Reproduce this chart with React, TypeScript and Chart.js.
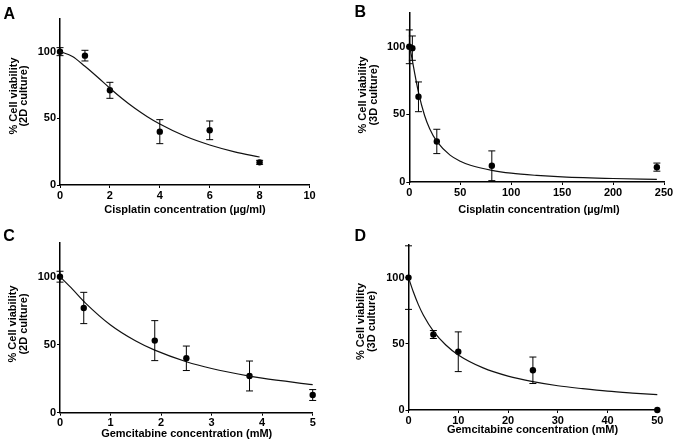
import React, { useEffect, useRef } from "react";
import { Chart, registerables } from "chart.js";
Chart.register(...registerables);

// ---- Data ----
// Panel A: Cisplatin, 2D culture
const aDose = [0, 1, 2, 4, 6, 8];
const aViability = [100, 97, 71, 40, 41, 17];
const aError = [3, 4, 6, 9, 7, 1.5];
const aCurveX = [0, 0.5, 1, 1.5, 2, 2.5, 3, 3.5, 4, 5, 6, 7, 8];
const aCurveY = [100, 96.4, 89, 81, 72.6, 64.7, 57.5, 51.2, 45.7, 36.7, 30, 24.9, 21];
const aXTicks = [0, 2, 4, 6, 8, 10];

// Panel B: Cisplatin, 3D culture
const bDose = [0, 3, 9, 27, 81, 243];
const bViability = [100, 99, 63, 30, 12, 11];
const bError = [12.5, 9, 11, 9, 11, 3];
const bCurveX = [0, 1, 3, 5, 9, 15, 20, 27, 40, 50, 60, 81, 100, 125, 150, 200, 243];
const bCurveY = [100, 97.6, 90, 81.6, 66.3, 49.2, 39.4, 30, 19.9, 15.4, 12.4, 8.6, 6.5, 4.9, 3.8, 2.6, 2];
const bXTicks = [0, 50, 100, 150, 200, 250];

// Panel C: Gemcitabine, 2D culture
const cDose = [0, 0.47, 1.875, 2.5, 3.75, 5];
const cViability = [100, 77, 53, 40, 27, 13];
const cError = [4, 11.5, 14.7, 9, 11, 4];
const cCurveX = [0, 0.25, 0.5, 1, 1.5, 1.875, 2.5, 3, 3.75, 4, 5];
const cCurveY = [100, 90.7, 80.8, 64.5, 52.7, 46, 37.5, 32.5, 26.9, 25.4, 20.6];
const cXTicks = [0, 1, 2, 3, 4, 5];

// Panel D: Gemcitabine, 3D culture
const dDose = [0, 5, 10, 25, 50];
const dViability = [100, 57, 44, 30, 0];
const dError = [24, 3, 15, 10, 0];
const dCurveX = [0, 1, 2, 3, 5, 7.5, 10, 15, 20, 25, 30, 35, 40, 45, 50];
const dCurveY = [100, 88.9, 79.4, 71.6, 59.6, 49.1, 41.6, 31.8, 25.6, 21.4, 18.3, 16.1, 14.2, 12.8, 11.6];
const dXTicks = [0, 10, 20, 30, 40, 50];

const yTicks = [0, 50, 100];
const yMax = 125;

const FONT = "'Liberation Sans', Arial, Helvetica, sans-serif";

type Panel = {
  letter: string;
  left: number; top: number; w: number; h: number;
  area: { l: number; t: number; r: number; b: number };
  dose: number[]; viab: number[]; err: number[];
  curveX: number[]; curveY: number[];
  xMax: number; xTicks: number[];
  xTitle: string; yTitle: string[];
  letterPos: [number, number];
  yTitlePos: [number, number];
  xTitlePos: [number, number];
};

const panels: Panel[] = [
  {
    letter: "A", left: 0, top: 0, w: 338, h: 224,
    area: { l: 60, t: 18.3, r: 309.5, b: 185 },
    dose: aDose, viab: aViability, err: aError, curveX: aCurveX, curveY: aCurveY,
    xMax: 10, xTicks: aXTicks,
    xTitle: "Cisplatin concentration (µg/ml)", yTitle: ["% Cell viability", "(2D culture)"],
    letterPos: [3.5, 18.5], yTitlePos: [13.5, 96], xTitlePos: [185, 210],
  },
  {
    letter: "B", left: 338, top: 0, w: 339, h: 224,
    area: { l: 71.3, t: 13, r: 326, b: 182 },
    dose: bDose, viab: bViability, err: bError, curveX: bCurveX, curveY: bCurveY,
    xMax: 250, xTicks: bXTicks,
    xTitle: "Cisplatin concentration (µg/ml)", yTitle: ["% Cell viability", "(3D culture)"],
    letterPos: [16.5, 17], yTitlePos: [25, 95], xTitlePos: [201, 210],
  },
  {
    letter: "C", left: 0, top: 224, w: 338, h: 224,
    area: { l: 60, t: 18.7, r: 312.7, b: 188.7 },
    dose: cDose, viab: cViability, err: cError, curveX: cCurveX, curveY: cCurveY,
    xMax: 5, xTicks: cXTicks,
    xTitle: "Gemcitabine concentration (mM)", yTitle: ["% Cell viability", "(2D culture)"],
    letterPos: [3.3, 17], yTitlePos: [13.3, 100], xTitlePos: [186.7, 210],
  },
  {
    letter: "D", left: 338, top: 224, w: 339, h: 224,
    area: { l: 70.5, t: 20.5, r: 319.3, b: 186 },
    dose: dDose, viab: dViability, err: dError, curveX: dCurveX, curveY: dCurveY,
    xMax: 50, xTicks: dXTicks,
    xTitle: "Gemcitabine concentration (mM)", yTitle: ["% Cell viability", "(3D culture)"],
    letterPos: [16.5, 16.5], yTitlePos: [23.3, 97.5], xTitlePos: [194.5, 205.5],
  },
];

function axisStyle() {
  return {
    border: { display: true, color: "#000", width: 1.5 },
    grid: { display: true, drawOnChartArea: false, drawTicks: true, tickLength: 3, color: "#000", lineWidth: 1 },
    ticks: { color: "#000", padding: 1, font: { family: FONT, size: 11, weight: "bold" as const } },
    title: { display: false },
  };
}

function PanelChart({ p }: { p: Panel }) {
  const ref = useRef<HTMLCanvasElement>(null);
  useEffect(() => {
    const canvas = ref.current!;
    const decor = {
      id: "decor" + p.letter,
      afterDatasetsDraw(chart: any) {
        const { ctx } = chart;
        const xs = chart.scales.x;
        const ys = chart.scales.y;
        ctx.save();
        ctx.strokeStyle = "#000";
        ctx.lineWidth = 1;
        p.dose.forEach((d, i) => {
          const e = p.err[i];
          if (!e) return;
          const px = xs.getPixelForValue(d);
          const top = ys.getPixelForValue(p.viab[i] + e);
          const bot = ys.getPixelForValue(Math.max(0, p.viab[i] - e));
          ctx.beginPath();
          ctx.moveTo(px, top); ctx.lineTo(px, bot);
          ctx.moveTo(px - 3.5, top); ctx.lineTo(px + 3.5, top);
          ctx.moveTo(px - 3.5, bot); ctx.lineTo(px + 3.5, bot);
          ctx.stroke();
        });
        ctx.restore();
      },
      afterDraw(chart: any) {
        const { ctx } = chart;
        ctx.save();
        ctx.fillStyle = "#000";
        // panel letter
        ctx.font = `bold 16px ${FONT}`;
        ctx.textAlign = "left";
        ctx.textBaseline = "alphabetic";
        ctx.fillText(p.letter, p.letterPos[0], p.letterPos[1]);
        // x title
        ctx.font = `bold 11px ${FONT}`;
        ctx.textAlign = "center";
        ctx.textBaseline = "middle";
        ctx.fillText(p.xTitle, p.xTitlePos[0], p.xTitlePos[1]);
        // y title (rotated, two lines)
        p.yTitle.forEach((line, i) => {
          ctx.save();
          ctx.translate(p.yTitlePos[0] + i * 10.5, p.yTitlePos[1]);
          ctx.rotate(-Math.PI / 2);
          ctx.fillText(line, 0, 0);
          ctx.restore();
        });
        ctx.restore();
      },
    };
    const chart = new Chart(canvas, {
      type: "scatter",
      data: {
        datasets: [
          {
            data: p.curveX.map((x, i) => ({ x, y: p.curveY[i] })),
            showLine: true,
            pointRadius: 0,
            borderColor: "#111",
            borderWidth: 1.2,
            cubicInterpolationMode: "monotone",
            clip: false,
          } as any,
          {
            data: p.dose.map((x, i) => ({ x, y: p.viab[i] })),
            showLine: false,
            pointRadius: 3.2,
            backgroundColor: "#000",
            borderColor: "#000",
            borderWidth: 0,
            clip: false,
          } as any,
        ],
      },
      options: {
        responsive: false,
        animation: false,
        devicePixelRatio: 1,
        events: [],
        layout: { padding: { left: 0, top: p.area.t, right: p.w - p.area.r, bottom: 0 } },
        plugins: { legend: { display: false }, tooltip: { enabled: false }, title: { display: false } },
        scales: {
          x: {
            type: "linear",
            min: 0,
            max: p.xMax,
            afterBuildTicks: (s: any) => { s.ticks = p.xTicks.map((v) => ({ value: v })); },
            afterFit: (s: any) => { s.height = p.h - p.area.b; },
            ...axisStyle(),
          } as any,
          y: {
            type: "linear",
            min: 0,
            max: yMax,
            afterBuildTicks: (s: any) => { s.ticks = yTicks.map((v) => ({ value: v })); },
            afterFit: (s: any) => { s.width = p.area.l; },
            ...axisStyle(),
          } as any,
        },
      },
      plugins: [decor],
    });
    return () => chart.destroy();
  }, [p]);
  return (
    <canvas
      ref={ref}
      width={p.w}
      height={p.h}
      style={{ position: "absolute", left: p.left, top: p.top, width: p.w, height: p.h }}
    />
  );
}

export default function App() {
  return (
    <div style={{ position: "absolute", left: 0, top: 0, width: 677, height: 448, background: "#fff", overflow: "hidden" }}>
      {panels.map((p) => (
        <PanelChart key={p.letter} p={p} />
      ))}
    </div>
  );
}
